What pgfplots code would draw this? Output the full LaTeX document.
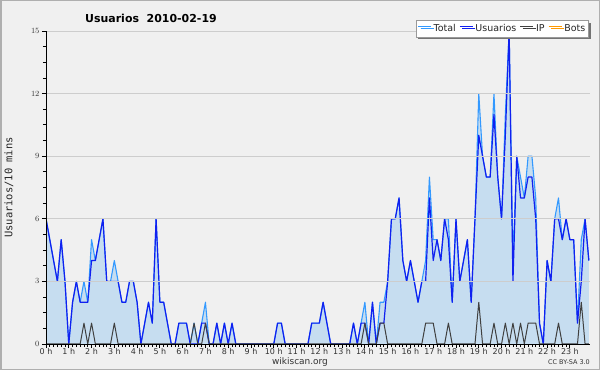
\documentclass[border=0pt]{standalone}
\usepackage{fontspec}
\setmainfont{DejaVu Sans}
\setmonofont{DejaVu Sans Mono}
\usepackage{pgfplots}
\pgfplotsset{compat=1.18}
\usepackage{pgfplotstable}
\usetikzlibrary{shadows}

\definecolor{bg}{RGB}{240,240,240}
\definecolor{framec}{RGB}{175,175,175}
\definecolor{fillc}{RGB}{198,221,240}
\definecolor{totc}{RGB}{51,153,255}
\definecolor{usrc}{RGB}{16,32,240}
\definecolor{ipc}{RGB}{64,64,64}
\definecolor{botc}{RGB}{255,153,0}
\definecolor{gridc}{RGB}{205,205,205}

\pgfplotstableread{
i T U IP
0 6 6 0
1 5 5 0
2 4 4 0
3 3 3 0
4 5 5 0
5 3 3 0
6 0 0 0
7 2 2 0
8 3 3 0
9 2 2 0
10 3 2 1
11 2 2 0
12 5 4 1
13 4 4 0
14 5 5 0
15 6 6 0
16 3 3 0
17 3 3 0
18 4 3 1
19 3 3 0
20 2 2 0
21 2 2 0
22 3 3 0
23 3 3 0
24 2 2 0
25 0 0 0
26 1 1 0
27 2 2 0
28 1 1 0
29 6 6 0
30 2 2 0
31 2 2 0
32 1 1 0
33 0 0 0
34 0 0 0
35 1 1 0
36 1 1 0
37 1 1 0
38 0 0 0
39 1 0 1
40 0 0 0
41 1 1 0
42 2 1 1
43 0 0 0
44 0 0 0
45 1 1 0
46 0 0 0
47 1 1 0
48 0 0 0
49 1 1 0
50 0 0 0
51 0 0 0
52 0 0 0
53 0 0 0
54 0 0 0
55 0 0 0
56 0 0 0
57 0 0 0
58 0 0 0
59 0 0 0
60 0 0 0
61 1 1 0
62 1 1 0
63 0 0 0
64 0 0 0
65 0 0 0
66 0 0 0
67 0 0 0
68 0 0 0
69 0 0 0
70 1 1 0
71 1 1 0
72 1 1 0
73 2 2 0
74 1 1 0
75 0 0 0
76 0 0 0
77 0 0 0
78 0 0 0
79 0 0 0
80 0 0 0
81 1 1 0
82 0 0 0
83 1 1 0
84 2 1 1
85 0 0 0
86 2 2 0
87 0 0 0
88 2 1 1
89 2 1 1
90 3 3 0
91 6 6 0
92 6 6 0
93 7 7 0
94 4 4 0
95 3 3 0
96 4 4 0
97 3 3 0
98 2 2 0
99 3 3 0
100 4 3 1
101 8 7 1
102 5 4 1
103 5 5 0
104 4 4 0
105 6 6 0
106 6 5 1
107 2 2 0
108 6 6 0
109 3 3 0
110 4 4 0
111 5 5 0
112 2 2 0
113 6 6 0
114 12 10 2
115 9 9 0
116 8 8 0
117 8 8 0
118 12 11 1
119 8 8 0
120 6 6 0
121 11 10 1
122 15 15 0
123 4 3 1
124 9 9 0
125 8 7 1
126 7 7 0
127 9 8 1
128 9 8 1
129 7 6 1
130 1 1 0
131 0 0 0
132 4 4 0
133 3 3 0
134 6 6 0
135 7 6 1
136 5 5 0
137 6 6 0
138 5 5 0
139 5 5 0
140 1 1 0
141 5 3 2
142 6 6 0
143 4 4 0
}\data

\begin{document}
\begin{tikzpicture}
\fill[bg] (0,0) rectangle (600bp,370bp);
\draw[framec, line width=1.5bp] (0.75bp,0.75bp) rectangle (599.25bp,369.25bp);
\begin{axis}[
  at={(46bp,26bp)}, anchor=south west,
  scale only axis, width=544bp, height=313bp,
  xmin=0, xmax=143.3, ymin=0, ymax=15,
  axis lines*=left,
  axis line style={black, line width=0.9bp},
  axis on top,
  ytick={0,3,...,15}, minor y tick num=3,
  xtick={0,6,...,138},
  xticklabels={0 h,1 h,2 h,3 h,4 h,5 h,6 h,7 h,8 h,9 h,10 h,11 h,12 h,13 h,14 h,15 h,16 h,17 h,18 h,19 h,20 h,21 h,22 h,23 h},
  minor x tick num=5,
  tick align=outside,
  major tick length=4bp, minor tick length=3bp,
  tick style={black, line width=0.8bp},
  ymajorgrids, grid style={gridc, line width=0.8bp},
  ticklabel style={font=\fontsize{8}{9}\selectfont, text=black!80},
  xticklabel style={yshift=3.5bp},
  yticklabel style={xshift=1bp},
  ylabel={\texttt{Usuarios/10 mins}},
  ylabel style={at={(axis description cs:-0.068,0.5)}, anchor=center, font=\fontsize{10.5}{11}\selectfont, text=black!85},
  legend columns=4,
  legend style={at={(axis description cs:1,1)}, anchor=north east, xshift=-1bp, yshift=11bp,
    fill=white, draw=black!40, line width=0.6bp,
    drop shadow={shadow xshift=2.5bp, shadow yshift=-2.5bp, fill=black!55, opacity=1},
    font=\fontsize{9.5}{10}\selectfont, text=black!85,
    inner xsep=1.5bp, inner ysep=2bp,
    /tikz/every even column/.append style={column sep=1.5bp},
    nodes={inner xsep=2bp, inner ysep=2bp}},
  legend image code/.code={\draw[#1, line width=1.2bp] (0bp,2.5bp) -- (13bp,2.5bp);},
]
\addplot[fill=fillc, draw=none, forget plot] table[x=i,y=T] {\data} \closedcycle;
\addplot[totc, line width=1.1bp, line join=round] table[x=i,y=T] {\data};
\addlegendentry{Total}
\addplot[usrc, line width=1.2bp, line join=round] table[x=i,y=U] {\data};
\addlegendentry{Usuarios}
\addplot[ipc, line width=1bp, line join=round] table[x=i,y=IP] {\data};
\addlegendentry{IP}
\addlegendimage{botc, line width=1.2bp}
\addlegendentry{Bots}
\end{axis}
\node[font=\fontsize{11}{13}\selectfont\bfseries] at (151bp,351.5bp) {Usuarios\ \ 2010-02-19};
\node[font=\fontsize{9}{10}\selectfont, text=black!80] at (300bp,8bp) {wikiscan.org};
\node[font=\fontsize{6.5}{7}\selectfont, text=black!80] at (569bp,8bp) {CC BY-SA 3.0};
\end{tikzpicture}
\end{document}
